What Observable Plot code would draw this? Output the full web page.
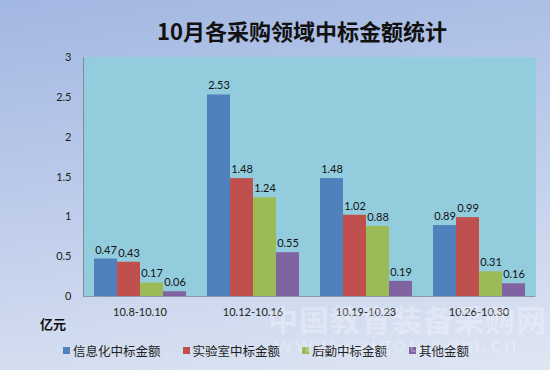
<!DOCTYPE html>
<html><head><meta charset="utf-8">
<script src="https://cdn.jsdelivr.net/npm/d3@7"></script>
<script src="https://cdn.jsdelivr.net/npm/@observablehq/plot@0.6"></script>
<style>
html,body{margin:0;padding:0;}
#wrap{position:relative;width:550px;height:370px;overflow:hidden;
 background:linear-gradient(172deg,#a2b7e2 0%,#bccbea 45%,#dfe6f3 100%);
 font-family:Lato,"Noto Sans CJK SC",sans-serif;}
#title{position:absolute;left:0;top:14px;width:604px;text-align:center;font:bold 22px "Noto Sans CJK SC",sans-serif;color:#111;}
#chart{position:absolute;left:0;top:45px;}
#unit{position:absolute;left:40px;top:314px;font:bold 13px "Noto Sans CJK SC",sans-serif;color:#111;}
#legend{position:absolute;left:63px;top:341px;display:flex;gap:0;font:12.5px "Noto Sans CJK SC",sans-serif;color:#222;}
#legend span.it{display:flex;align-items:center;margin-right:22px;}
#legend i{display:inline-block;width:7px;height:7px;margin-right:3px;}
#wm{position:absolute;left:268px;top:296px;font:bold 30px "Noto Sans CJK SC",sans-serif;color:rgba(255,255,255,0.3);letter-spacing:1px;pointer-events:none;}
#wm2{position:absolute;left:275px;top:330px;font:22px Lato,sans-serif;color:rgba(255,255,255,0.3);letter-spacing:3px;pointer-events:none;}
</style></head>
<body><div id="wrap">
<div id="title">10月各采购领域中标金额统计</div>
<div id="chart"></div>
<div id="unit">亿元</div>
<div id="legend"></div>
<div id="wm">中国教育装备采购网</div>
<div id="wm2">www.caigou.com.cn</div>
</div>
<script>
const groups = ["10.8-10.10","10.12-10.16","10.19-10.23","10.26-10.30"];
const series = ["信息化中标金额","实验室中标金额","后勤中标金额","其他金额"];
const colors = ["#4f81bd","#c0504d","#9bbb59","#8064a2"];
const infoVals  = [0.47, 2.53, 1.48, 0.89];
const labVals   = [0.43, 1.48, 1.02, 0.99];
const logiVals  = [0.17, 1.24, 0.88, 0.31];
const otherVals = [0.06, 0.55, 0.19, 0.16];
const yTicks = [0, 0.5, 1, 1.5, 2, 2.5, 3];

const seriesVals = [infoVals, labVals, logiVals, otherVals];
const data = [];
groups.forEach((g, gi) => series.forEach((s, si) => data.push({group: g, series: s, value: seriesVals[si][gi]})));

const chart = Plot.plot({
  width: 550, height: 285,
  marginLeft: 82, marginRight: 15, marginTop: 12, marginBottom: 34,
  style: {background: "transparent", fontFamily: "Lato, 'Noto Sans CJK SC', sans-serif", fontSize: "11px", color: "#222"},
  fx: {domain: groups, paddingInner: 0, paddingOuter: 0, label: null, tickSize: 0, tickPadding: 12},
  x: {domain: series, paddingInner: 0, paddingOuter: 0.4, axis: null},
  y: {domain: [0, 3], ticks: yTicks, tickFormat: d => String(d), label: null, tickSize: 0, tickPadding: 12},
  color: {domain: series, range: colors},
  marks: [
    Plot.frame({fill: "#93cddd", stroke: "#93cddd", facet: "super"}),
    Plot.ruleY([0], {stroke: "#8a9aa6"}),
    Plot.frame({anchor: "left", stroke: "#7f8c96", strokeWidth: 1, facet: "super"}),
    Plot.barY(data, {fx: "group", x: "series", y: "value", fill: "series"}),
    Plot.text(data, {fx: "group", x: "series", y: "value", text: d => d.value.toFixed(2), dy: -9, fontSize: 11, fill: "#111"}),
    Plot.axisY({ticks: yTicks, tickSize: 0, tickPadding: 12, tickFormat: d => String(d), fill: "#222"})
  ]
});
document.getElementById("chart").appendChild(chart);

const lg = document.getElementById("legend");
series.forEach((s, i) => {
  const it = document.createElement("span"); it.className = "it";
  it.innerHTML = `<i style="background:${colors[i]}"></i>${s}`;
  lg.appendChild(it);
});
</script>
</body></html>
